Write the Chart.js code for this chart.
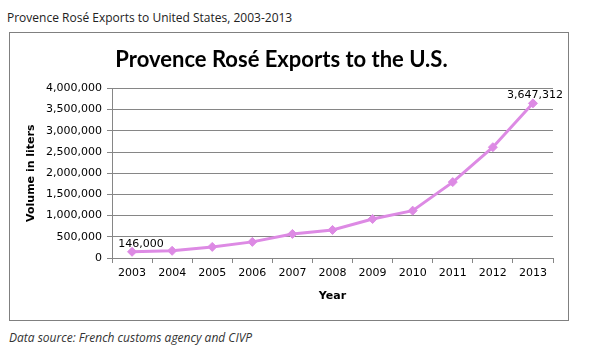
<!DOCTYPE html>
<html lang="en">
<head>
<meta charset="UTF-8">
<title>Provence Rosé Exports</title>
<style>
  body { margin: 0; background: #fff; width: 590px; height: 350px; position: relative; overflow: hidden; }
  #heading { position: absolute; left: 7px; top: 9px; font: 12px "Open Sans", sans-serif; color: #222; white-space: nowrap; }
  #box { position: absolute; left: 9px; top: 32px; width: 558px; height: 287px; border: 1px solid #808080; }
  #footer { position: absolute; left: 9px; top: 329px; font: italic 12px "Open Sans", sans-serif; color: #333; white-space: nowrap; }
</style>
</head>
<body>

<div id="heading">Provence Rosé Exports to United States, 2003-2013</div>
<div id="box"><canvas id="myCanvas" width="558" height="287"></canvas></div>
<div id="footer">Data source: French customs agency and CIVP</div>

<script src="https://cdn.jsdelivr.net/npm/chart.js@4/dist/chart.umd.min.js"></script>
<script>
// values
var years = ['2003', '2004', '2005', '2006', '2007', '2008', '2009', '2010', '2011', '2012', '2013'];
var volumes = [146000, 170000, 262000, 380000, 568000, 662000, 920000, 1117000, 1790000, 2613000, 3647312];
var labelled = [0, 10];   // points that carry a value label

var lineColor = '#dd8ae4';
var gridColor = '#868686';

// writes the value next to the first and last point
var valueLabels = {
    id: 'valueLabels',
    afterDatasetsDraw: function(chart) {
        var ctx = chart.ctx;
        var meta = chart.getDatasetMeta(0);
        ctx.save();
        ctx.font = '11px "DejaVu Sans"';
        ctx.fillStyle = '#000';
        ctx.textAlign = 'center';
        ctx.textBaseline = 'middle';
        labelled.forEach(function(i) {
            var pt = meta.data[i];
            var dx = i === 0 ? 9 : 2;
            ctx.fillText(volumes[i].toLocaleString('en-US'), pt.x + dx, pt.y - 8);
        });
        ctx.restore();
    }
};

var ctx = document.getElementById('myCanvas').getContext('2d');
var chart = new Chart(ctx, {
    type: 'line',
    data: {
        labels: years,
        datasets: [{
            data: volumes,
            borderColor: lineColor,
            backgroundColor: lineColor,
            borderWidth: 3,
            pointStyle: 'rectRot',
            pointRadius: 4.5,
            pointBorderWidth: 1,
            tension: 0
        }]
    },
    options: {
        responsive: false,
        animation: false,
        layout: { padding: { left: 0, right: 15, top: 0, bottom: 0 } },
        plugins: {
            legend: { display: false },
            tooltip: { enabled: false },
            title: {
                display: true,
                text: 'Provence Rosé Exports to the U.S.',
                color: '#000',
                font: { family: 'Lato', size: 22, weight: 'bold', lineHeight: 1.2 },
                padding: { top: 14, bottom: 15 }
            }
        },
        scales: {
            x: {
                offset: true,
                grid: { display: true, drawOnChartArea: false, offset: true, color: gridColor, tickLength: 5 },
                border: { color: gridColor },
                ticks: { color: '#000', font: { family: 'DejaVu Sans', size: 11 }, padding: 4, maxRotation: 0 },
                title: {
                    display: true, text: 'Year', color: '#000',
                    font: { family: 'DejaVu Sans', size: 11, weight: 'bold', lineHeight: 1.2 },
                    padding: { top: 0, bottom: 17 }
                },
                afterFit: function(scale) { scale.height = 62; }
            },
            y: {
                min: 0,
                max: 4000000,
                grid: { color: gridColor, tickLength: 5 },
                border: { color: gridColor },
                ticks: {
                    stepSize: 500000,
                    color: '#000',
                    font: { family: 'DejaVu Sans', size: 11 },
                    padding: 5,
                    callback: function(v) { return v.toLocaleString('en-US'); }
                },
                title: {
                    display: true, text: 'Volume in liters', color: '#000',
                    font: { family: 'DejaVu Sans', size: 11, weight: 'bold', lineHeight: 1.2 },
                    padding: { top: 15, bottom: 0 }
                },
                afterFit: function(scale) { scale.width = 102; }
            }
        }
    },
    plugins: [valueLabels]
});
</script>
</body>
</html>
